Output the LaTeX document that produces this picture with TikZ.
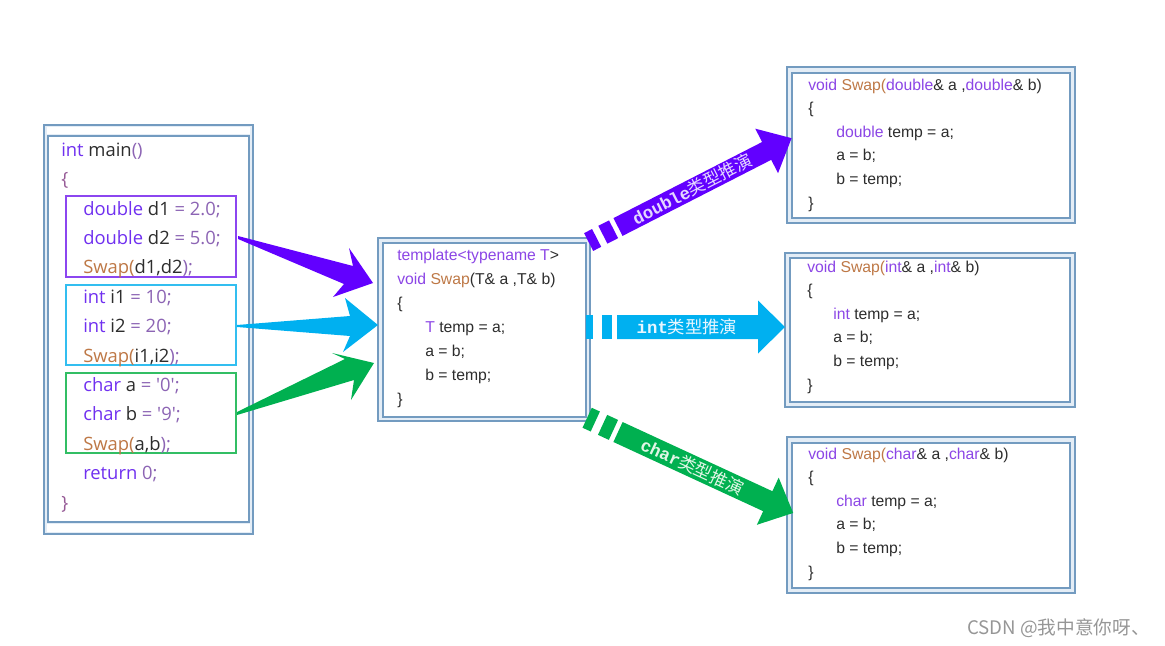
\documentclass[tikz,border=0pt]{standalone}
\usepackage{fontspec}
\setmainfont{Liberation Sans}
\newfontfamily\lfont{Open Sans}
\newfontfamily\rfont{Liberation Sans}
\newfontfamily\cjk{Noto Sans CJK SC}
\newfontfamily\monof{Liberation Mono}
\definecolor{kwL}{RGB}{112,48,240}
\definecolor{kwR}{RGB}{140,70,230}
\definecolor{litC}{RGB}{140,100,180}
\definecolor{fnC}{RGB}{190,120,70}
\definecolor{plainC}{RGB}{45,45,45}
\definecolor{braceC}{RGB}{150,90,150}
\definecolor{frameC}{RGB}{115,155,192}
\definecolor{frameF}{RGB}{228,237,246}
\definecolor{arrP}{RGB}{98,0,255}
\definecolor{arrC}{RGB}{0,176,240}
\definecolor{arrG}{RGB}{0,176,80}
\definecolor{boxP}{RGB}{140,70,240}
\definecolor{boxC}{RGB}{50,190,240}
\definecolor{boxG}{RGB}{50,190,100}
\definecolor{txtP}{RGB}{228,215,255}
\definecolor{txtC}{RGB}{232,246,255}
\definecolor{txtG}{RGB}{225,246,230}
\definecolor{wmC}{RGB}{150,150,150}
\newcommand\ckw[1]{\textcolor{kwL}{#1}}
\newcommand\ckr[1]{\textcolor{kwR}{#1}}
\newcommand\cfn[1]{\textcolor{fnC}{#1}}
\newcommand\clit[1]{\textcolor{litC}{#1}}
\newcommand\cbr[1]{\textcolor{braceC}{#1}}
\begin{document}
\begin{tikzpicture}[x=0.75pt,y=-0.75pt,
  frameout/.style={draw=frameC, line width=1pt, fill=frameF},
  framein/.style={draw=frameC, line width=1pt, fill=white},
  lcode/.style={anchor=base west, inner sep=0pt, font=\lfont\fontsize{13.8}{16}\selectfont, text=plainC},
  rcode/.style={anchor=base west, inner sep=0pt, font=\rfont\fontsize{11.8}{14}\selectfont, text=plainC},
  arrtext/.style={inner sep=0pt, font=\fontsize{13}{15}\selectfont},
  groupbox/.style={draw=#1, line width=1.1pt}
]
\useasboundingbox (0,0) rectangle (1165,646);

% ---------- main() box ----------
\draw[frameout] (44,125) rectangle (253,534);
\fill[white] (47,127) rectangle (250,134);
\fill[white] (47,524) rectangle (250,532);
\draw[framein, line width=1.6pt] (48,136) rectangle (249,522);
\draw[groupbox=boxP] (66,196) rectangle (236,277);
\draw[groupbox=boxC] (66,285) rectangle (236,365);
\draw[groupbox=boxG] (66,373) rectangle (236,453);

\node[lcode] (m1) at (61,156) {\ckw{int} main\clit{()}};
\node[lcode] (m2) at (61,185.5) {\cbr{\{}};
\node[lcode] (m3) at (83,215) {\ckw{double} d1 \clit{= 2.0;}};
\node[lcode] (m4) at (83,244) {\ckw{double} d2 \clit{= 5.0;}};
\node[lcode] (m5) at (83,273.5) {\cfn{Swap(}d1,d2\clit{);}};
\node[lcode] (m6) at (83,303) {\ckw{int} i1 \clit{= 10;}};
\node[lcode] (m7) at (83,332.5) {\ckw{int} i2 \clit{= 20;}};
\node[lcode] (m8) at (83,362) {\cfn{Swap(}i1,i2\clit{);}};
\node[lcode] (m9) at (83,391) {\ckw{char} a \clit{= '0';}};
\node[lcode] (m10) at (83,420.5) {\ckw{char} b \clit{= '9';}};
\node[lcode] (m11) at (83,450) {\cfn{Swap(}a,b\clit{);}};
\node[lcode] (m12) at (83,479.5) {\ckw{return} \clit{0;}};
\node[lcode] (m13) at (61,509) {\cbr{\}}};

% ---------- template box ----------
\draw[frameout] (378,238) rectangle (590,421);
\draw[framein] (383,243) rectangle (586,417);
\node[rcode] (t1) at (397,260) {\ckr{template<typename T}>};
\node[rcode] (t2) at (397,284) {\ckr{void} \cfn{Swap}(T\& a ,T\& b)};
\node[rcode] (t3) at (397,308) {\{};
\node[rcode] (t4) at (425,332) {\ckr{T} temp = a;};
\node[rcode] (t5) at (425,356) {a = b;};
\node[rcode] (t6) at (425,380) {b = temp;};
\node[rcode] (t7) at (397,404) {\}};

% ---------- double box ----------
\draw[frameout] (787,67) rectangle (1075,223);
\draw[framein] (792,73) rectangle (1070,218);
\node[rcode] (a1) at (808,90) {\ckr{void} \cfn{Swap(}\ckr{double}\& a ,\ckr{double}\& b)};
\node[rcode] (a2) at (808,113.6) {\{};
\node[rcode] (a3) at (836,137.2) {\ckr{double} temp = a;};
\node[rcode] (a4) at (836,160.8) {a = b;};
\node[rcode] (a5) at (836,184.4) {b = temp;};
\node[rcode] (a6) at (808,208) {\}};

% ---------- int box ----------
\draw[frameout] (785,253) rectangle (1075,407);
\draw[framein] (790,258) rectangle (1070,402);
\node[rcode] (b1) at (807,272) {\ckr{void} \cfn{Swap(}\ckr{int}\& a ,\ckr{int}\& b)};
\node[rcode] (b2) at (807,295.6) {\{};
\node[rcode] (b3) at (833,319.2) {\ckr{int} temp = a;};
\node[rcode] (b4) at (833,342.8) {a = b;};
\node[rcode] (b5) at (833,366.4) {b = temp;};
\node[rcode] (b6) at (807,390) {\}};

% ---------- char box ----------
\draw[frameout] (787,437) rectangle (1075,593);
\draw[framein] (792,443) rectangle (1070,588);
\node[rcode] (c1) at (808,459) {\ckr{void} \cfn{Swap(}\ckr{char}\& a ,\ckr{char}\& b)};
\node[rcode] (c2) at (808,482.6) {\{};
\node[rcode] (c3) at (836,506.2) {\ckr{char} temp = a;};
\node[rcode] (c4) at (836,529.8) {a = b;};
\node[rcode] (c5) at (836,553.4) {b = temp;};
\node[rcode] (c6) at (808,577) {\}};

% ---------- fat arrows into the template ----------
\fill[arrP] (238,236) -- (353,266) -- (349,248) -- (373,283) -- (333,297) -- (344,284) -- (238,239) -- cycle;
\fill[arrC] (237,325) -- (350,316) -- (345,298) -- (378,325) -- (343,352) -- (350,336) -- (237,327) -- cycle;
\fill[arrG] (237,412) -- (345,359) -- (332,353) -- (374,363) -- (351,400) -- (354,380) -- (237,415) -- cycle;

% ---------- deduction arrows ----------
\begin{scope}[shift={(618,227)}, rotate=27.1]
  \fill[arrP] (0,-10) -- (167,-10) -- (167,-25) -- (195,0) -- (167,25) -- (167,10) -- (0,10) -- cycle;
  \fill[arrP] (-17,-10) rectangle (-5,10);
  \fill[arrP] (-33,-10) rectangle (-24,10);
  \node[arrtext, text=txtP, rotate=27.1] (dtxt) at (83,0) {{\monof\bfseries double}{\cjk 类型推演}};
\end{scope}
\begin{scope}[shift={(617,327)}]
  \fill[arrC] (0,-12) -- (141,-12) -- (141,-26.5) -- (168,0) -- (141,26.5) -- (141,12) -- (0,12) -- cycle;
  \fill[arrC] (-15,-12) rectangle (-5,12);
  \fill[arrC] (-31,-12) rectangle (-24,12);
  \node[arrtext, text=txtC] (itxt) at (70,0) {{\monof\bfseries int}{\cjk 类型推演}};
\end{scope}
\begin{scope}[shift={(618,432)}, rotate=-24.8]
  \fill[arrG] (0,-11) -- (165,-11) -- (165,-26) -- (193,0) -- (165,26) -- (165,11) -- (0,11) -- cycle;
  \fill[arrG] (-17,-11) rectangle (-5,11);
  \fill[arrG] (-34,-11) rectangle (-25,11);
  \node[arrtext, text=txtG, rotate=-24.8] (ctxt) at (82,0) {{\monof\bfseries char}{\cjk 类型推演}};
\end{scope}

% ---------- watermark ----------
\node[anchor=base west, inner sep=0pt, text=wmC, font=\cjk\fontsize{14}{16}\selectfont] (wm) at (967,634) {CSDN @我中意你呀、};
\end{tikzpicture}
\end{document}
